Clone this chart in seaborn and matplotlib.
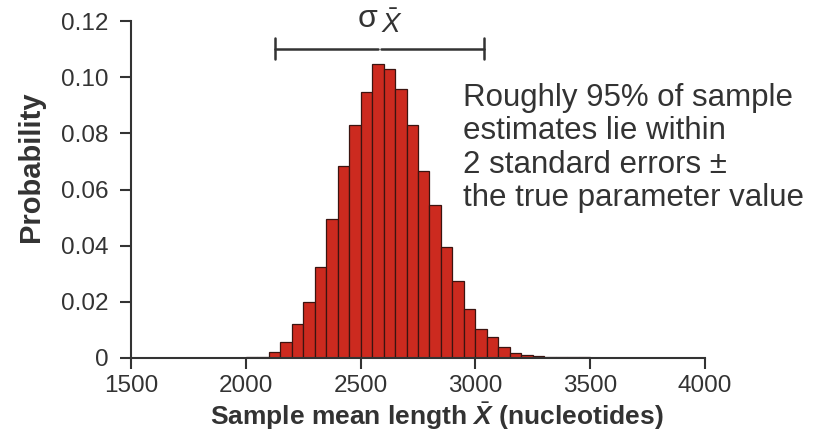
import numpy as np
import pandas as pd
import matplotlib
matplotlib.use("Agg")
import matplotlib.pyplot as plt
import seaborn as sns

# Data (bin width 50 nucleotides)
bin_lower = [2000, 2050, 2100, 2150, 2200, 2250, 2300, 2350, 2400, 2450,
             2500, 2550, 2600, 2650, 2700, 2750, 2800, 2850, 2900, 2950,
             3000, 3050, 3100, 3150, 3200, 3250, 3300, 3350, 3400, 3450,
             3500, 3550, 3600, 3650, 3700]
probability = [0.0002, 0.0005, 0.0022, 0.0056, 0.0121, 0.0199, 0.0324, 0.0496, 0.0683, 0.0829,
               0.0946, 0.1048, 0.1030, 0.0957, 0.0829, 0.0667, 0.0546, 0.0396, 0.0273, 0.0174,
               0.0103, 0.0075, 0.0040, 0.0019, 0.0011, 0.0006, 0.0004, 0.0003, 0.0002, 0.0002,
               0.0001, 0.0001, 0.0001, 0.0001, 0.0001]
bin_width = 50
x_ticks = [1500, 2000, 2500, 3000, 3500, 4000]
y_ticks = [0, 0.02, 0.04, 0.06, 0.08, 0.10, 0.12]
y_ticklabels = ["0", "0.02", "0.04", "0.06", "0.08", "0.10", "0.12"]
se_left, se_right, se_center = 2126, 3039, 2583

sns.set_theme(style="ticks")
plt.rcParams['font.family'] = ['Liberation Sans', 'DejaVu Sans']
plt.rcParams['mathtext.fontset'] = 'custom'
plt.rcParams['mathtext.rm'] = 'Liberation Sans'
plt.rcParams['mathtext.it'] = 'Liberation Sans:italic'
plt.rcParams['mathtext.bf'] = 'Liberation Sans:bold'
plt.rcParams['mathtext.bfit'] = 'Liberation Sans:italic:bold'

df = pd.DataFrame({"center": np.array(bin_lower) + bin_width / 2, "p": probability})
edges = list(bin_lower) + [bin_lower[-1] + bin_width]

fig = plt.figure(figsize=(8.17, 4.38), dpi=100)
ax = fig.add_axes([131 / 817, 1 - 358 / 438, (705 - 131) / 817, (358 - 21) / 438])

sns.histplot(data=df, x="center", weights="p", bins=edges, stat="count",
             color="#cc2a1f", alpha=1.0, edgecolor="#3b1410", linewidth=0.9, ax=ax)

ax.set_xlim(1500, 4000)
ax.set_ylim(0, 0.12)
ax.set_xticks(x_ticks)
ax.set_xticklabels([str(t) for t in x_ticks])
ax.set_yticks(y_ticks)
ax.set_yticklabels(y_ticklabels)
ax.tick_params(axis='both', direction='out', length=8, width=1.5, colors='#333333',
               labelsize=17.5)
ax.tick_params(axis='x', pad=4)
ax.tick_params(axis='y', pad=8)
for s in ['top', 'right']:
    ax.spines[s].set_visible(False)
for s in ['left', 'bottom']:
    ax.spines[s].set_linewidth(1.5)
    ax.spines[s].set_color('#333333')

ax.set_ylabel("Probability", fontsize=21, fontweight='bold', color='#333333')
ax.yaxis.set_label_coords(-0.15, 0.568)
ax.set_xlabel(r"Sample mean length $\bar{\mathbfit{X}}$ (nucleotides)", fontsize=19,
              fontweight='bold', color='#333333')
ax.xaxis.set_label_coords(0.533, -0.125)

# standard error bar annotation
ax.plot([se_left, se_center - 6], [0.1100, 0.1100], color='#333333', lw=1.8, clip_on=False)
ax.plot([se_center + 6, se_right], [0.1100, 0.1100], color='#333333', lw=1.8, clip_on=False)
for xe in (se_left, se_right):
    ax.plot([xe, xe], [0.1066, 0.1139], color='#333333', lw=1.8, clip_on=False)
ax.text(2532, 0.1206, "σ", fontsize=23, ha='center', va='center', color='#333333')
ax.text(2637, 0.1188, r"$\bar{X}$", fontsize=20, ha='center', va='center', color='#333333')

fig.text(463 / 817, 1 - 83 / 438,
         "Roughly 95% of sample\nestimates lie within\n2 standard errors ±\nthe true parameter value",
         fontsize=22.5, ha='left', va='top', linespacing=1.15, color='#333333')

fig.savefig("out.png", dpi=100, facecolor='white')
